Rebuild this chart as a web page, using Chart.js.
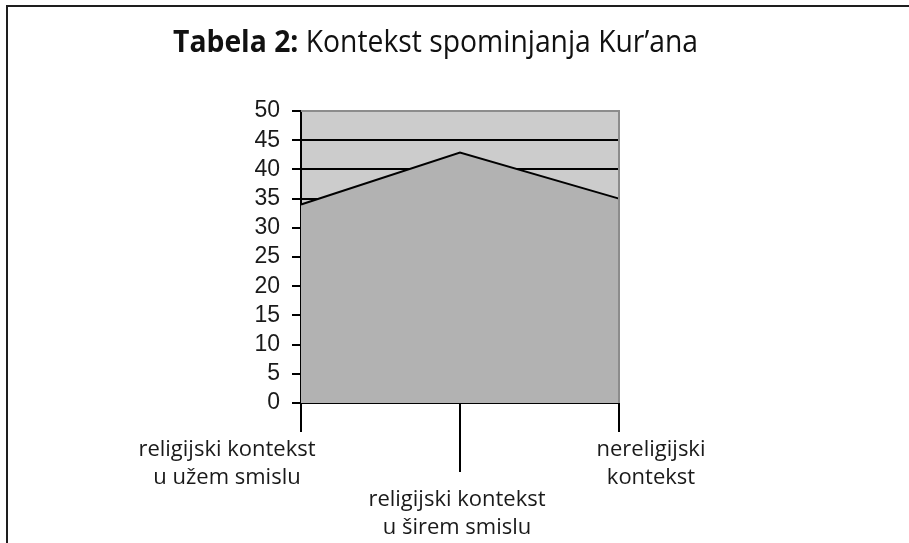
<!DOCTYPE html>
<html><head><meta charset="utf-8">
<script src="https://cdn.jsdelivr.net/npm/chart.js@4"></script>
<style>
html,body{margin:0;padding:0;background:#fff;}
#wrap{position:relative;width:909px;height:543px;overflow:hidden;}
canvas{display:block;}
</style></head><body>
<div id="wrap"><canvas id="c" width="909" height="543"></canvas></div>
<script>
const titleBold = 'Tabela 2:';
const titleRest = ' Kontekst spominjanja Kur\u2019ana';
const categories = [
  ['religijski kontekst', 'u užem smislu'],
  ['religijski kontekst', 'u širem smislu'],
  ['nereligijski', 'kontekst']
];
const values = [34, 42.9, 35];
const yTickValues = [0, 5, 10, 15, 20, 25, 30, 35, 40, 45, 50];

const LABEL_FONT = '"Open Sans", "Noto Sans", sans-serif';

const decor = {
  id: 'decor',
  beforeDraw(chart) {
    const ctx = chart.ctx, a = chart.chartArea;
    ctx.save();
    ctx.fillStyle = '#ffffff';
    ctx.fillRect(0, 0, chart.width, chart.height);
    // outer frame (top & left)
    ctx.fillStyle = '#1e1e1e';
    ctx.fillRect(6, 5, chart.width - 6, 2);
    ctx.fillRect(6, 5, 2, chart.height - 5);
    // plot background
    ctx.fillStyle = '#cccccc';
    ctx.fillRect(a.left, a.top, a.right - a.left, a.bottom - a.top);
    ctx.restore();
  },
  afterDraw(chart) {
    const ctx = chart.ctx, a = chart.chartArea, xs = chart.scales.x;
    ctx.save();
    // plot frame (top & right)
    ctx.strokeStyle = '#8c8c8c';
    ctx.lineWidth = 2;
    ctx.beginPath();
    ctx.moveTo(a.left, a.top);
    ctx.lineTo(a.right, a.top);
    ctx.lineTo(a.right, a.bottom);
    ctx.stroke();
    // x ticks and labels
    ctx.strokeStyle = '#000';
    ctx.fillStyle = '#1a1a1a';
    ctx.font = '22px ' + LABEL_FONT;
    ctx.textAlign = 'center';
    ctx.textBaseline = 'alphabetic';
    const tickLen = [29, 69, 29];
    const shift = [-74, -3, 32];
    const firstBase = [456, 506, 456];
    categories.forEach((lines, i) => {
      const x = Math.round(xs.getPixelForValue(i));
      ctx.beginPath();
      ctx.moveTo(x, a.bottom);
      ctx.lineTo(x, a.bottom + tickLen[i]);
      ctx.stroke();
      lines.forEach((t, j) => {
        ctx.fillText(t, x + shift[i], firstBase[i] + j * 27.5);
      });
    });
    // title
    const bFont = 'bold 31px ' + LABEL_FONT;
    const rFont = '31px ' + LABEL_FONT;
    ctx.font = bFont; const wb = ctx.measureText(titleBold).width;
    ctx.font = rFont; const wr = ctx.measureText(titleRest).width;
    const target = 525, sx = target / (wb + wr);
    ctx.translate(173, 52);
    ctx.scale(sx, 1);
    ctx.textAlign = 'left';
    ctx.fillStyle = '#111';
    ctx.font = bFont; ctx.fillText(titleBold, 0, 0);
    ctx.font = rFont; ctx.fillText(titleRest, wb, 0);
    ctx.restore();
  }
};

new Chart(document.getElementById('c'), {
  type: 'line',
  data: {
    labels: categories.map(c => c.join(' ')),
    datasets: [{
      data: values,
      borderColor: '#000',
      borderWidth: 2,
      backgroundColor: '#b2b2b2',
      fill: 'origin',
      pointRadius: 0,
      tension: 0
    }]
  },
  options: {
    responsive: false,
    animation: false,
    devicePixelRatio: 1,
    layout: { padding: { top: 111, right: 290, bottom: 140, left: 0 } },
    plugins: { legend: { display: false }, tooltip: { enabled: false }, title: { display: false } },
    scales: {
      x: {
        type: 'category',
        offset: false,
        grid: { display: false, drawTicks: false },
        border: { display: true, color: '#000', width: 2 },
        ticks: { display: false },
        afterFit(s) { s.height = 0; }
      },
      y: {
        min: 0, max: 50,
        afterBuildTicks(s) { s.ticks = yTickValues.map(v => ({ value: v })); },
        grid: {
          color: c => (c.tick && c.tick.value === 50) ? 'rgba(0,0,0,0)' : '#000',
          lineWidth: 2,
          tickLength: 9,
          tickColor: '#000',
          tickWidth: 2
        },
        border: { display: true, color: '#000', width: 2 },
        ticks: {
          autoSkip: false,
          font: { family: '"Liberation Sans", Arial, sans-serif', size: 23 },
          color: '#1a1a1a',
          padding: 12
        },
        afterFit(s) { s.width = 301; }
      }
    }
  },
  plugins: [decor]
});
</script>
</body></html>
